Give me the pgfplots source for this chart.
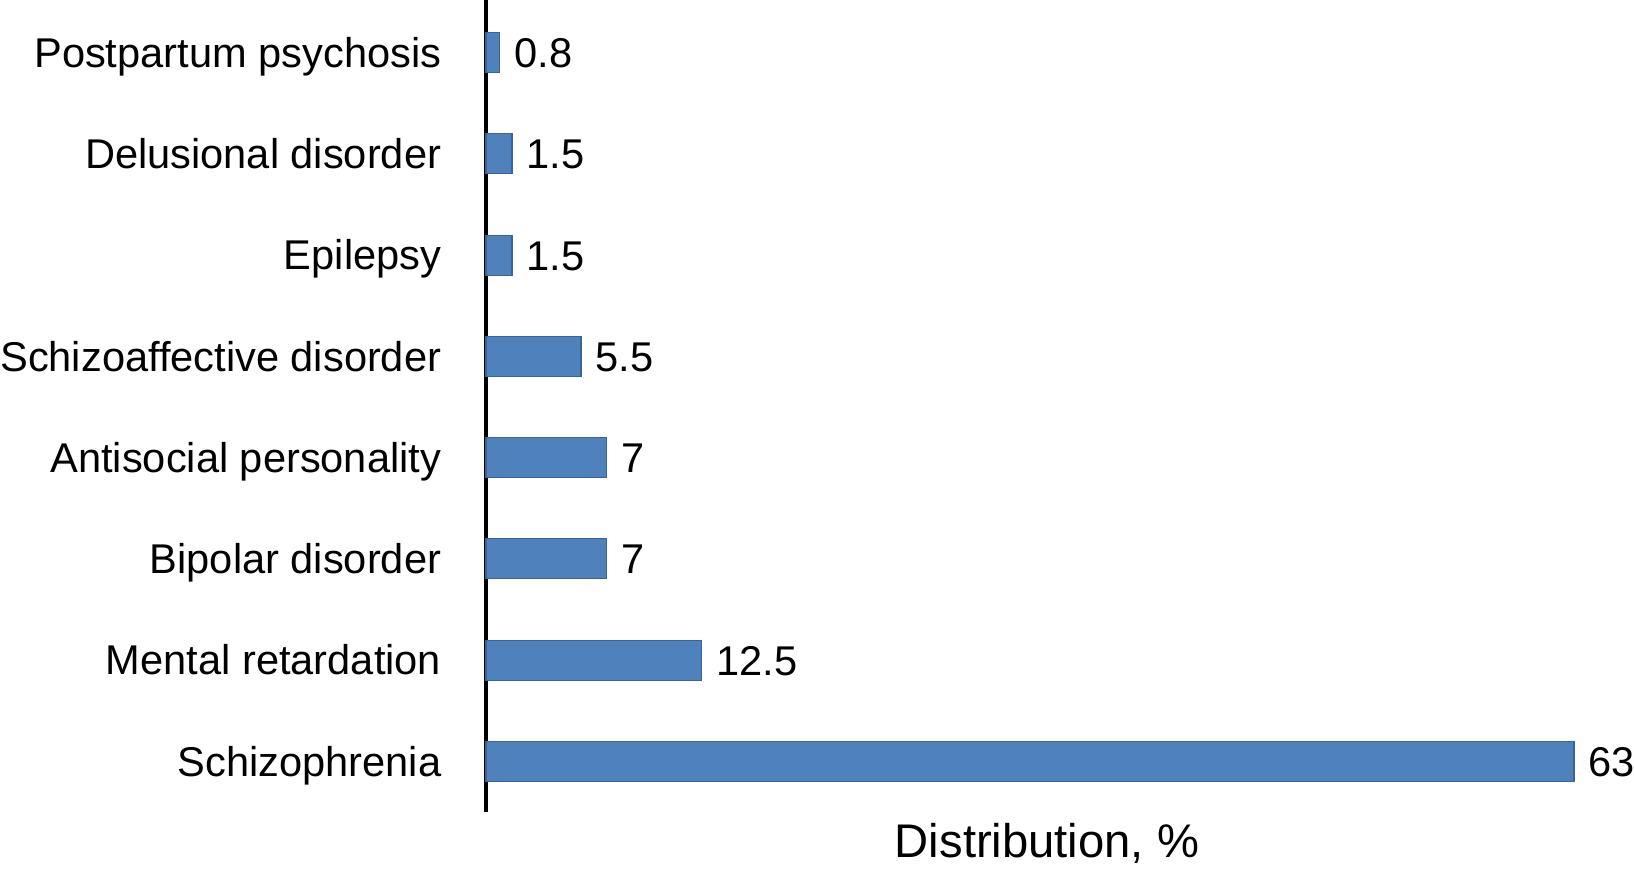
\documentclass[border=0pt]{standalone}
\usepackage{pgfplots}
\pgfplotsset{compat=1.18}
\usepackage{pgfplotstable}
\usepackage{fontspec}
\setmainfont{Liberation Sans}
\definecolor{barblue}{HTML}{4F81BD}
\definecolor{baredge}{HTML}{3B6496}
\pgfplotstableread{
i v lab
0 63 63
1 12.5 12.5
2 7 7
3 7 7
4 5.5 5.5
5 1.5 1.5
6 1.5 1.5
7 0.8 0.8
}\datatable
\begin{document}
\begin{tikzpicture}
\path[use as bounding box] (-121.5pt,-16.25pt) rectangle (287pt,203pt);
\begin{axis}[
  at={(0,0)}, anchor=south west,
  scale only axis,
  width=272pt, height=203pt,
  xbar, bar width=10pt,
  xmin=0, xmax=63,
  ymin=-0.5, ymax=7.52,
  axis x line=none,
  axis y line*=left,
  axis line style={line width=1pt, black, -},
  ytick={0,...,7},
  yticklabels={Schizophrenia, Mental retardation, Bipolar disorder, Antisocial personality, Schizoaffective disorder, Epilepsy, Delusional disorder, Postpartum psychosis},
  major tick length=0pt,
  yticklabel style={font=\fontsize{10.4}{12}\selectfont, inner sep=0pt, anchor=base east, xshift=-11pt, yshift=-3.7pt},
  nodes near coords,
  point meta=explicit symbolic,
  nodes near coords style={font=\fontsize{10.4}{12}\selectfont, anchor=west, inner sep=0pt, xshift=3.5pt, yshift=-0.2pt},
  clip=false,
]
\addplot[fill=barblue, draw=baredge, line width=0.3pt] table[x=v, y=i, meta=lab] {\datatable};
\end{axis}
\node[font=\fontsize{11.8}{13}\selectfont, anchor=base] at (140.25pt,-11.25pt) {Distribution, \%};
\end{tikzpicture}
\end{document}
